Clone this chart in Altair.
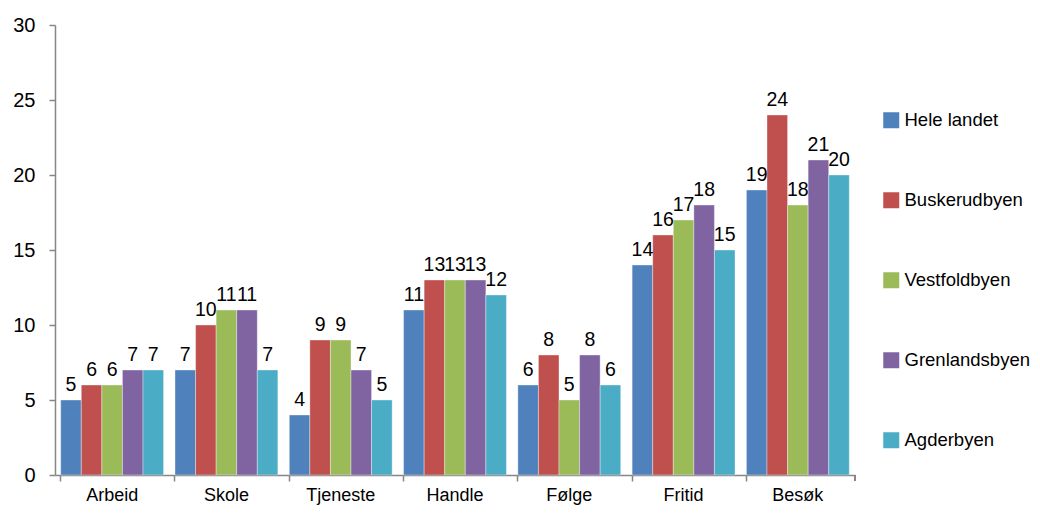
import altair as alt
import pandas as pd

categories = ["Arbeid", "Skole", "Tjeneste", "Handle", "Følge", "Fritid", "Besøk"]
series = ["Hele landet", "Buskerudbyen", "Vestfoldbyen", "Grenlandsbyen", "Agderbyen"]
hele_landet = [5, 7, 4, 11, 6, 14, 19]
buskerudbyen = [6, 10, 9, 13, 8, 16, 24]
vestfoldbyen = [6, 11, 9, 13, 5, 17, 18]
grenlandsbyen = [7, 11, 7, 13, 8, 18, 21]
agderbyen = [7, 7, 5, 12, 6, 15, 20]
colors = ["#4F81BD", "#C0504D", "#9BBB59", "#8064A2", "#4BACC6"]

values = [hele_landet, buskerudbyen, vestfoldbyen, grenlandsbyen, agderbyen]
rows = []
for s, vals in zip(series, values):
    for c, v in zip(categories, vals):
        rows.append({"Kategori": c, "Serie": s, "Verdi": v})
df = pd.DataFrame(rows)

FONT = "Liberation Sans"
AXIS_GRAY = "#868686"

x = alt.X("Kategori:N", sort=categories, title=None,
          scale=alt.Scale(paddingInner=0.1, paddingOuter=0.05),
          axis=alt.Axis(labelAngle=0, labelFontSize=18, labelFont=FONT, labelColor="black",
                        domainColor=AXIS_GRAY, tickColor=AXIS_GRAY, tickSize=6,
                        bandPosition=0, labelPadding=5, domainWidth=1.5, tickWidth=1.5))
y = alt.Y("Verdi:Q", title=None,
          scale=alt.Scale(domain=[0, 30], nice=False),
          axis=alt.Axis(values=[0, 5, 10, 15, 20, 25, 30], grid=False, labelFontSize=20,
                        labelFont=FONT, labelColor="black", domainColor=AXIS_GRAY,
                        tickColor=AXIS_GRAY, tickSize=6, labelPadding=14,
                        domainWidth=1.5, tickWidth=1.5))
xoff = alt.XOffset("Serie:N", sort=series)

bars = alt.Chart(df).mark_bar(stroke="white", strokeWidth=0.6, strokeOpacity=0.6).encode(
    x=x, y=y, xOffset=xoff,
    color=alt.Color("Serie:N", sort=series,
                    scale=alt.Scale(domain=series, range=colors),
                    legend=alt.Legend(title=None, orient="none", legendX=827, legendY=86,
                                      symbolType="square", symbolSize=256,
                                      symbolStrokeWidth=0, labelFontSize=18.5,
                                      labelFont=FONT, labelColor="black",
                                      rowPadding=61, labelOffset=4, padding=0,
                                      labelLimit=200)),
)

labels = alt.Chart(df).mark_text(baseline="bottom", dy=-5, fontSize=19.5, font=FONT,
                                 color="black").encode(
    x=x, y=y, xOffset=xoff, text=alt.Text("Verdi:Q")
)

# closing tick at the right end of the category axis
end_tick = alt.Chart(df).mark_rule(color=AXIS_GRAY, strokeWidth=1.5).encode(
    x=alt.value(800), y=alt.value(450), y2=alt.value(456)
)

chart = alt.layer(bars, labels, end_tick).properties(
    width=800, height=450,
    background="white",
    autosize=alt.AutoSizeParams(type="none"),
    padding={"left": 47, "top": 17, "right": 177, "bottom": 34},
).configure_view(strokeWidth=0, stroke="transparent")

chart.save("out.html", embed_options={"renderer": "svg", "actions": False})
